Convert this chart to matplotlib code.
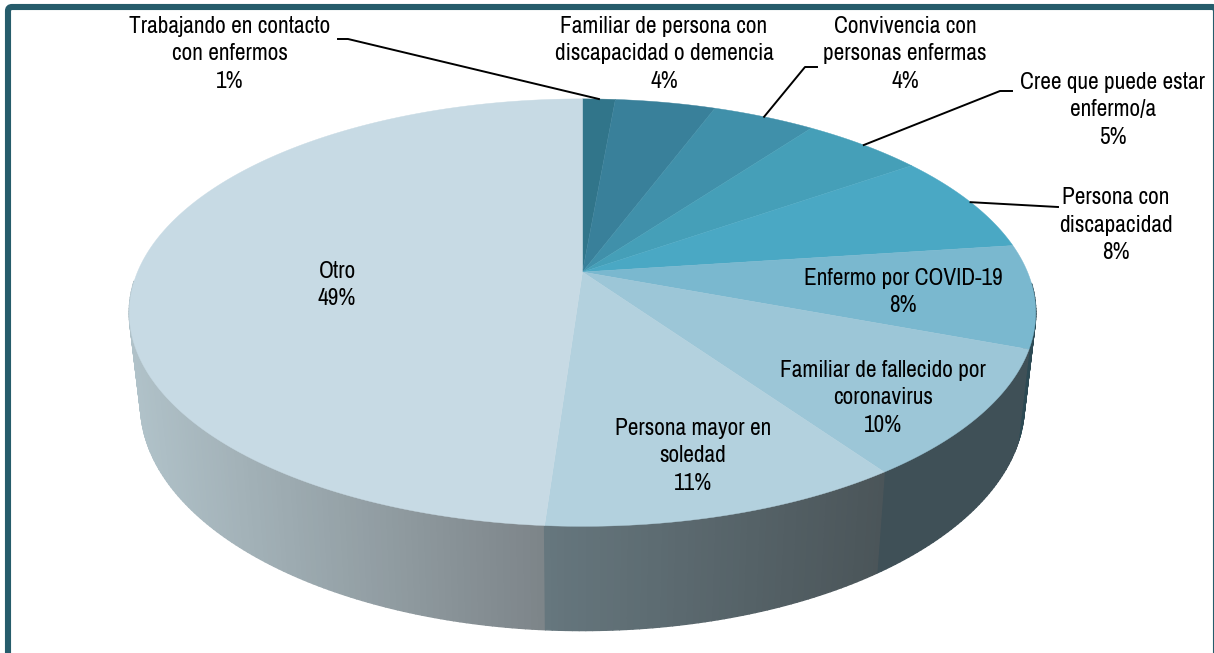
import numpy as np
import matplotlib
matplotlib.use("Agg")
import matplotlib.pyplot as plt
from matplotlib.collections import PolyCollection
from matplotlib.colors import to_rgb
from matplotlib.patches import FancyBboxPatch

plt.rcParams['font.family'] = ['Archivo Narrow', 'Liberation Sans', 'DejaVu Sans']

# --------------------------------------------------
# DATA (clockwise from twelve o'clock)
# --------------------------------------------------

categories = [
    "Trabajando en contacto\ncon enfermos",
    "Familiar de persona con\ndiscapacidad o demencia",
    "Convivencia con\npersonas enfermas",
    "Cree que puede estar\nenfermo/a",
    "Persona con\ndiscapacidad",
    "Enfermo por COVID-19",
    "Familiar de fallecido por\ncoronavirus",
    "Persona mayor en\nsoledad",
    "Otro",
]
values = [1.4, 4.3, 4.4, 5.2, 7.6, 7.8, 9.6, 10.8, 48.9]

top_colors = ["#31758a", "#39809a", "#4090aa", "#459fb8", "#4aa8c4",
              "#7ab8cf", "#9cc6d7", "#b3d1de", "#c7dae4"]
side_left = ["#2d4a54", "#2d4a54", "#2d4a54", "#2d4a54", "#2d4a54",
             "#2d4a54", "#3f5057", "#66777e", "#b2c4cb"]
side_right = ["#2d4a54", "#2d4a54", "#2d4a54", "#2d4a54", "#2d4a54",
              "#2d4a54", "#3f5057", "#4a5458", "#787f83"]

label_pos = [(230, 54), (664, 54), (905, 54), (1113, 110), (1116, 225),
             (903, 292), (883, 398), (693, 456), (337, 285)]

# elbow of the leader lines, None where the label sits without one
leader_start = [[(338, 39), (348, 39)], None, [(817, 67), (805, 67)],
                [(1012, 91), (1000, 91)], [(1058, 207)],
                None, None, None, None]

# --------------------------------------------------
# PIE GEOMETRY (perspective view of a flat disc)
# --------------------------------------------------

CX, CY = 582.5, 272
A, B, K = 445, 206, 0.19


def rim(pct):
    ang = np.radians(np.asarray(pct) * 3.6)
    u, v = np.sin(ang), np.cos(ang)
    den = 1 + K * v
    return CX + A * u / den, CY - B * v / den


def lower_rim(x, y):
    return CX + 0.975 * (x - CX), CY + 89.5 + 1.058 * (y - CY)


fig = plt.figure(figsize=(12.14, 6.53), dpi=100)
ax = fig.add_axes([0, 0, 1, 1])
ax.set_xlim(0, 1214)
ax.set_ylim(653, 0)
ax.axis("off")

# frame, its bottom edge falls outside the picture
ax.add_patch(FancyBboxPatch((8, 7), 1208, 700, boxstyle="round,pad=0,rounding_size=4",
                            fc="white", ec="#265c6b", lw=4.4, zorder=0))

edges = np.concatenate([[0], np.cumsum(values)])

# side wall, back to front, only the front half can be seen
quads, quad_colors = [], []
for i in range(len(values)):
    steps = np.arange(edges[i], edges[i + 1] + 0.2, 0.2)
    steps[-1] = edges[i + 1]
    x_top, y_top = rim(steps)
    x_low, y_low = lower_rim(x_top, y_top)
    x0, x1 = min(x_top.min(), x_low.min()), max(x_top.max(), x_low.max())
    c_l, c_r = np.array(to_rgb(side_left[i])), np.array(to_rgb(side_right[i]))
    for j in range(len(steps) - 1):
        if np.cos(np.radians(steps[j] * 3.6)) > -0.05:
            continue
        xm = (x_low[j] + x_low[j + 1]) / 2
        t = (xm - x0) / (x1 - x0)
        quads.append([(x_top[j], y_top[j]), (x_top[j + 1], y_top[j + 1]),
                      (x_low[j + 1], y_low[j + 1]), (x_low[j], y_low[j])])
        quad_colors.append(c_l + (c_r - c_l) * t)

order = np.argsort([q[0][1] for q in quads])
ax.add_collection(PolyCollection(
    [quads[k] for k in order],
    facecolors=[quad_colors[k] for k in order],
    edgecolors=[quad_colors[k] for k in order],
    linewidths=1.0, zorder=1,
))

# top face
for i in range(len(values)):
    steps = np.linspace(edges[i], edges[i + 1], 200)
    x_top, y_top = rim(steps)
    ax.fill(np.r_[CX, x_top], np.r_[CY, y_top], fc=top_colors[i], ec=top_colors[i],
            lw=0.3, zorder=2)

# labels and leader lines
for i, name in enumerate(categories):
    ax.text(label_pos[i][0], label_pos[i][1], f"{name}\n{values[i]:.0f}%",
            ha="center", va="center", ma="center", fontsize=16.8, linespacing=1.36,
            color="black", zorder=4)
    if leader_start[i] is not None:
        mx, my = rim((edges[i] + edges[i + 1]) / 2)
        pts = leader_start[i] + [(mx, my)]
        ax.plot([p[0] for p in pts], [p[1] for p in pts], color="black", lw=1.4,
                solid_joinstyle="round", zorder=3)

fig.savefig("out.png", dpi=100)
